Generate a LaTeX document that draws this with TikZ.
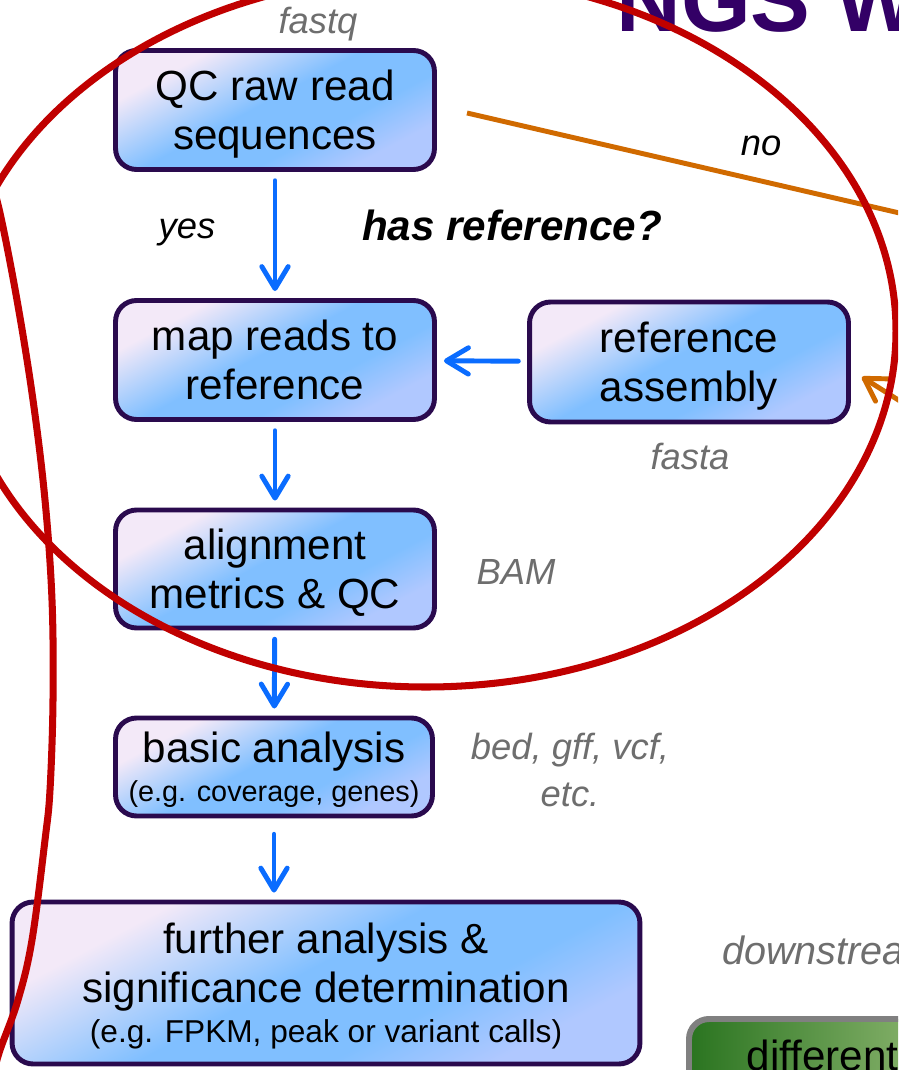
\documentclass[tikz,border=0pt]{standalone}
\usepackage{fontspec}
\setmainfont{Liberation Sans}
\usepackage{tikz}
\usetikzlibrary{positioning,calc,arrows.meta}

\definecolor{boxline}{HTML}{2A0A4E}
\definecolor{lavtop}{HTML}{F3E9F8}
\definecolor{skyblue}{HTML}{80BFFF}
\definecolor{paleblue}{HTML}{B0C8FF}
\definecolor{flowblue}{HTML}{0A6CFF}
\definecolor{noorange}{HTML}{D06A00}
\definecolor{ringred}{HTML}{C00000}
\definecolor{labelgray}{HTML}{6E6E6E}
\definecolor{titlepurple}{HTML}{330066}
\definecolor{darkgreen}{HTML}{2A7420}
\definecolor{lightgreen}{HTML}{B4D090}

\pgfdeclarehorizontalshading{boxshade}{100bp}{color(0bp)=(lavtop); color(28bp)=(lavtop); color(47bp)=(skyblue); color(61bp)=(skyblue); color(73bp)=(paleblue); color(100bp)=(paleblue)}

\newcommand{\bigtext}{\fontsize{24}{28.3}\selectfont}
\newcommand{\egtext}{\fontsize{16.4}{22}\selectfont}
\newcommand{\tagtext}{\fontsize{20.7}{26.6}\selectfont\itshape}

\begin{document}
\begin{tikzpicture}[x=0.02cm, y=-0.02cm]
            \tikzstyle{stepbox}=[draw=boxline, line width=2.8pt, rounded corners=0.42cm, shading=boxshade, shading angle=-62, align=center, font=\bigtext, inner sep=0pt, text height=50.3pt, text depth=5pt]
            \tikzstyle{flow}=[draw=flowblue, line width=2.8pt, line cap=round, -{Straight Barb[length=12.5pt,width=15pt,round]}, shorten <=5pt, shorten >=4pt]
            \tikzstyle{noline}=[draw=noorange, line width=2.8pt]
            \tikzstyle{tag}=[font=\tagtext, text=labelgray]
            \tikzstyle{ring}=[draw=ringred, line width=4pt]

            \useasboundingbox (0,0) rectangle (898,1070);
            \fill[white] (0,0) rectangle (898,1070);
            \clip (0,0) rectangle (898,1070);

            \node[font=\fontsize{51}{51}\selectfont\bfseries, text=titlepurple, anchor=base west, inner sep=0pt] (title) at (616,32) {NGS W};

            \node[stepbox, minimum width=6.38cm, minimum height=2.38cm] (qc) at (275,110) {QC raw read\\sequences};
            \node[stepbox, minimum width=6.38cm, minimum height=2.38cm] (map) at (275,360) {map reads to\\reference};
            \node[stepbox, minimum width=6.38cm, minimum height=2.4cm] (refasm) at (689,362) {reference\\assembly};
            \node[stepbox, minimum width=6.38cm, minimum height=2.36cm] (align) at (275,569) {alignment\\metrics \& QC};
            \node[stepbox, minimum width=6.34cm, minimum height=1.96cm, text height=44.7pt] (basic) at (274,767) {basic analysis\\[-5.6pt]{\egtext (e.g. coverage, genes)}};
            \node[stepbox, minimum width=12.56cm, minimum height=3.24cm, text height=73pt] (further) at (326,983) {further analysis \&\\significance determination\\[-5.6pt]{\fontsize{18}{22}\selectfont (e.g. FPKM, peak or variant calls)}};

            \node[draw=black!50, line width=3.4pt, rounded corners=0.4cm, left color=darkgreen, right color=lightgreen, anchor=north west, minimum height=1.44cm, text width=4.6cm, inner xsep=1.16cm, inner ysep=0pt, align=left, font=\bigtext] (diff) at (686,1016) {different};

            \node[tag] (fastq) at (318,24) {fastq};
            \node[font=\tagtext] (no) at (761,146) {no};
            \node[font=\tagtext] (yes) at (187,232) {yes};
            \node[font=\bigtext\bfseries\itshape] (hasref) at (512,225) {has reference?};
            \node[tag] (fasta) at (690,457) {fasta};
            \node[tag] (bam) at (516,572) {BAM};
            \node[tag, align=center] (bed) at (570,770) {bed, gff, vcf,\\etc.};
            \node[tag, font=\fontsize{22.5}{27}\selectfont\itshape, anchor=west] (down) at (716,950) {downstrea};

            \draw[flow] (qc) -- (map);
            \draw[flow] (map) -- (align);
            \draw[flow] (align) -- (basic);
            \draw[flow, shorten <=9pt] (basic.south) -- (basic.south |- further.north);
            \draw[flow] (refasm) -- (map);

            \coordinate (nostart) at (467,113);
            \coordinate (noend) at (960,227);
            \coordinate (asmfrom) at (930,420);
            \draw[noline] (nostart) -- (noend);
            \draw[noline, line cap=round, -{Straight Barb[length=12.5pt,width=15pt,round]}] (asmfrom) -- ($(refasm.east)+(11,15)$);

            \draw[ring] (426,331) ellipse [x radius=470, y radius=356];
            \draw[ring] plot[smooth, tension=0.6] coordinates {(-12,170) (0,213) (17,300) (33,400) (45,500) (52,600) (53,700) (50,790) (45,840) (32,940) (18,1000) (0,1050) (-6,1072)};
        \end{tikzpicture}
\end{document}
